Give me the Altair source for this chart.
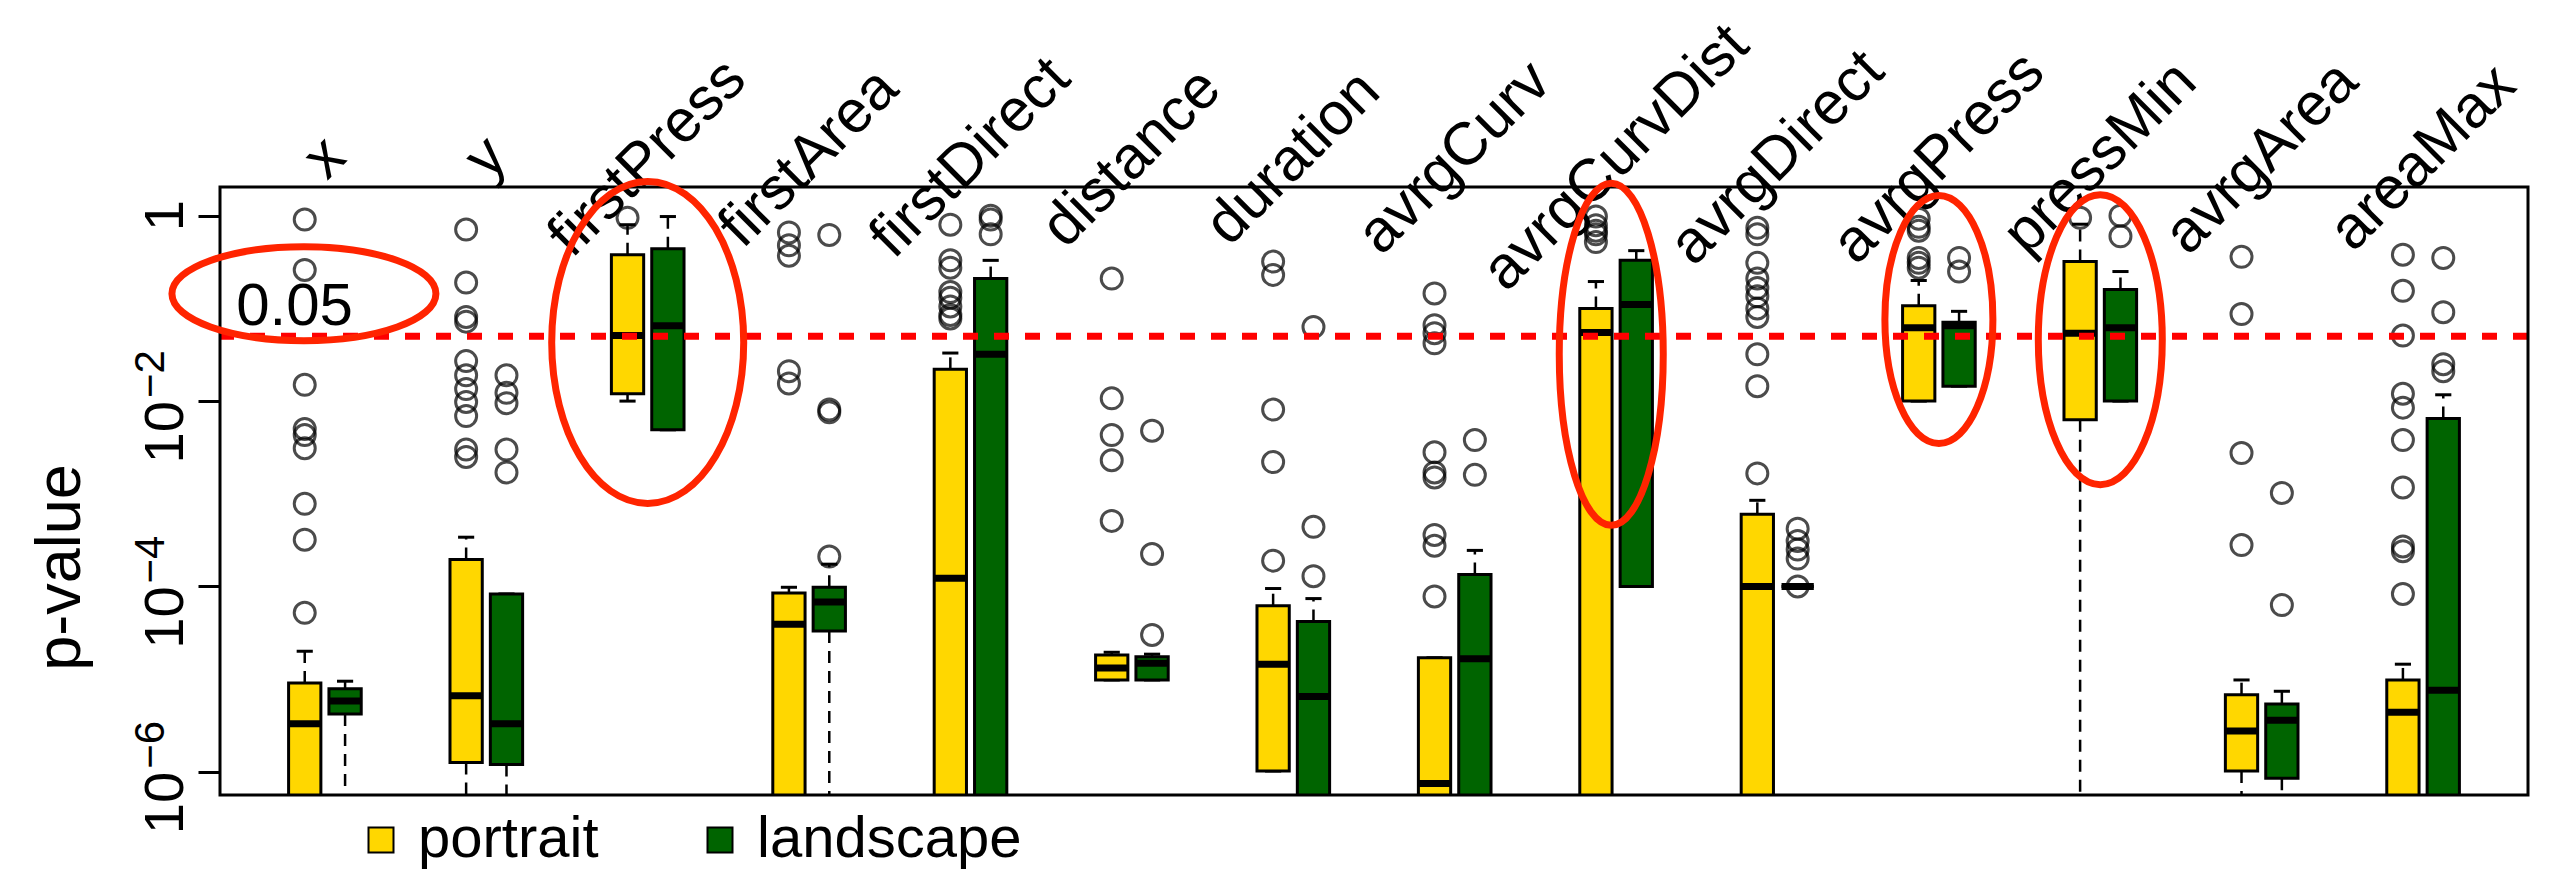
import altair as alt
import pandas as pd

categories = ["x", "y", "firstPress", "firstArea", "firstDirect", "distance", "duration",
              "avrgCurv", "avrgCurvDist", "avrgDirect", "avrgPress", "pressMin", "avrgArea", "areaMax"]
series = ["portrait", "landscape"]
colors = ["#FFD700", "#006400"]

# box statistics (p-values); values below ~6e-7 lie under the frame
portrait_lw  = [1e-7, 1e-7, 0.010, 1e-7, 1e-7, 9.8e-6, 1.02e-6, 1e-7, 1e-7, 1e-7, 0.010, 1e-7, 1e-7, 1e-7]
portrait_q1  = [3e-7, 1.26e-6, 0.012, 2e-7, 2e-7, 9.8e-6, 1.02e-6, 2e-7, 2e-7, 2e-7, 0.010, 0.0063, 1.02e-6, 2e-7]
portrait_med = [3.3e-6, 6.6e-6, 0.051, 3.9e-5, 1.23e-4, 1.32e-5, 1.45e-5, 7.5e-7, 0.055, 1.0e-4, 0.062, 0.054, 2.75e-6, 4.4e-6]
portrait_q3  = [9.1e-6, 1.95e-4, 0.38, 8.5e-5, 0.022, 1.82e-5, 6.2e-5, 1.7e-5, 0.10, 6.0e-4, 0.107, 0.32, 6.8e-6, 9.8e-6]
portrait_uw  = [2.0e-5, 3.4e-4, 0.80, 9.8e-5, 0.033, 1.95e-5, 9.5e-5, 1.7e-5, 0.195, 8.5e-4, 0.20, 0.81, 9.8e-6, 1.45e-5]

landscape_lw  = [1e-7, 1e-7, 0.0049, 1e-7, 1e-7, 9.8e-6, 1e-7, 1e-7, 1.0e-4, 1.0e-4, 0.0145, 0.010, 1e-7, 1e-7]
landscape_q1  = [4.2e-6, 1.2e-6, 0.0049, 3.3e-5, 2e-7, 9.8e-6, 2e-7, 2e-7, 1.0e-4, 1.0e-4, 0.0145, 0.010, 8.5e-7, 2e-7]
landscape_med = [5.8e-6, 3.3e-6, 0.065, 6.8e-5, 0.032, 1.48e-5, 6.5e-6, 1.66e-5, 0.11, 1.0e-4, 0.065, 0.062, 3.6e-6, 7.6e-6]
landscape_q3  = [7.9e-6, 8.3e-5, 0.44, 9.8e-5, 0.21, 1.74e-5, 4.2e-5, 1.35e-4, 0.33, 1.0e-4, 0.071, 0.16, 5.4e-6, 0.0065]
landscape_uw  = [9.5e-6, 8.3e-5, 0.98, 1.74e-4, 0.33, 1.86e-5, 7.4e-5, 2.45e-4, 0.42, 1.0e-4, 0.093, 0.25, 7.4e-6, 0.0117]

portrait_out = [
    [0.91, 0.26, 0.015, 0.005, 0.0043, 0.0031, 7.8e-4, 3.2e-4, 5.2e-5],
    [0.71, 0.19, 0.081, 0.072, 0.027, 0.019, 0.0135, 0.0098, 0.0069, 0.0030, 0.0025],
    [0.95],
    [0.66, 0.48, 0.37, 0.021, 0.0155],
    [0.80, 0.33, 0.275, 0.15, 0.13, 0.105, 0.085, 0.078],
    [0.21, 0.0107, 0.0043, 0.0023, 5.1e-4],
    [0.32, 0.23, 0.0081, 0.0022, 1.9e-4],
    [0.145, 0.066, 0.054, 0.042, 0.0028, 0.0017, 0.0015, 3.6e-4, 2.75e-4, 7.8e-5],
    [0.98, 0.79, 0.69, 0.63, 0.52],
    [0.74, 0.63, 0.31, 0.21, 0.166, 0.135, 0.10, 0.081, 0.032, 0.0145, 0.00166],
    [0.93, 0.76, 0.69, 0.35, 0.31, 0.275],
    [0.95],
    [0.36, 0.087, 0.00275, 2.8e-4],
    [0.38, 0.155, 0.051, 0.012, 0.0085, 0.0038, 0.00117, 2.7e-4, 2.4e-4, 8.3e-5],
]
landscape_out = [
    [],
    [0.019, 0.0123, 0.0095, 0.0030, 0.0017],
    [],
    [0.62, 0.0081, 0.0076, 2.1e-4],
    [1.0, 0.91, 0.63],
    [0.0048, 2.24e-4, 3.0e-5],
    [0.063, 4.4e-4, 1.29e-4],
    [0.0038, 0.0016],
    [],
    [4.2e-4, 3.1e-4, 2.5e-4, 2.0e-4, 1.0e-4],
    [0.35, 0.25],
    [1.0, 0.60],
    [0.00102, 6.3e-5],
    [0.35, 0.091, 0.025, 0.021],
]

threshold = 0.05
threshold_label = "0.05"

tick_values = [1, 1e-2, 1e-4, 1e-6]
tick_base = ["1", "10", "10", "10"]
tick_sup = ["", "\u22122", "\u22124", "\u22126"]

# highlight ellipses: category index, p-value at centre, radii in pixels
ellipse_cat = [-0.13, 2.0, 7.97, 10.0, 11.0]
ellipse_p = [0.144, 0.043, 0.032, 0.076, 0.046]
ellipse_rx = [132, 96, 52, 54, 62]
ellipse_ry = [47, 161, 171, 124, 145]

# ---------------------------------------------------------------- tables
rows = []
for s, (lw, q1, md, q3, uw) in zip(series, [
        (portrait_lw, portrait_q1, portrait_med, portrait_q3, portrait_uw),
        (landscape_lw, landscape_q1, landscape_med, landscape_q3, landscape_uw)]):
    for i, c in enumerate(categories):
        rows.append(dict(cat=c, idx=i, series=s, lw=lw[i], q1=q1[i], med=md[i], q3=q3[i], uw=uw[i]))
stats = pd.DataFrame(rows)

orows = []
for s, outs in zip(series, [portrait_out, landscape_out]):
    for i, c in enumerate(categories):
        for v in outs[i]:
            orows.append(dict(cat=c, idx=i, series=s, val=v))
outl = pd.DataFrame(orows)

W, H = 2308, 608
OFF, HALF, CAP = 0.125, 0.1, 0.05
FONT = "Liberation Sans"

xs = alt.Scale(domain=[-0.65, 13.65], nice=False, zero=False)
ys = alt.Scale(type="log", domain=[10 ** -6.25, 10 ** 0.31], nice=False)

pos_expr = f"datum.idx + (datum.series == 'portrait' ? {-OFF} : {OFF})"

base = alt.Chart(stats).transform_calculate(
    pos=pos_expr,
    xl=f"{pos_expr} - {HALF}",
    xr=f"{pos_expr} + {HALF}",
    cl=f"{pos_expr} - {CAP}",
    cr=f"{pos_expr} + {CAP}",
)

X = lambda f: alt.X(f"{f}:Q", scale=xs, axis=None)

yaxis = alt.Axis(
    values=tick_values, labels=False,
    tickSize=22, tickWidth=3, tickColor="black", domain=False, grid=False,
    title="p-value", titleFontSize=63, titleFont=FONT, titleFontWeight="normal",
    titleColor="black", titleAngle=270, titleX=-160, titleY=380,
    titleAlign="center", titleBaseline="middle",
)

whisk_hi = base.mark_rule(color="black", strokeWidth=2.5, strokeDash=[12, 8], clip=True).encode(
    x=X("pos"), y=alt.Y("q3:Q", scale=ys, axis=yaxis), y2="uw:Q")
whisk_lo = base.mark_rule(color="black", strokeWidth=2.5, strokeDash=[12, 8], clip=True).encode(
    x=X("pos"), y=alt.Y("q1:Q", scale=ys), y2="lw:Q")
cap_hi = base.mark_rule(color="black", strokeWidth=3, clip=True).encode(
    x=X("cl"), x2="cr:Q", y=alt.Y("uw:Q", scale=ys))
cap_lo = base.mark_rule(color="black", strokeWidth=3, clip=True).encode(
    x=X("cl"), x2="cr:Q", y=alt.Y("lw:Q", scale=ys))

boxes = base.mark_rect(stroke="black", strokeWidth=3, clip=True).encode(
    x=X("xl"), x2="xr:Q",
    y=alt.Y("q1:Q", scale=ys), y2="q3:Q",
    fill=alt.Fill("series:N", scale=alt.Scale(domain=series, range=colors),
                  legend=alt.Legend(orient="none", legendX=132, legendY=624, direction="horizontal",
                                    title=None, symbolType="square", symbolSize=625,
                                    symbolStrokeColor="black", symbolStrokeWidth=2,
                                    labelFontSize=58, labelFont=FONT, labelColor="black",
                                    labelOffset=8, columnPadding=92, padding=0,
                                    labelLimit=400)),
)
medians = base.mark_rule(color="black", strokeWidth=7, clip=True).encode(
    x=X("xl"), x2="xr:Q", y=alt.Y("med:Q", scale=ys))

outliers = alt.Chart(outl).transform_calculate(pos=pos_expr).mark_point(
    shape="circle", size=441, color="black", strokeWidth=3, filled=False, clip=True).encode(
    x=X("pos"), y=alt.Y("val:Q", scale=ys))

thr = alt.Chart(pd.DataFrame({"p": [threshold]})).mark_rule(
    color="#FF0000", strokeWidth=7, strokeDash=[15, 16]).encode(
    y=alt.Y("p:Q", scale=ys))

thr_text = alt.Chart(pd.DataFrame({"x": [-0.55], "p": [0.066], "t": [threshold_label]})).mark_text(
    align="left", baseline="alphabetic", fontSize=60, font=FONT, color="black").encode(
    x=X("x"), y=alt.Y("p:Q", scale=ys), text="t:N")

cat_df = pd.DataFrame({"cat": categories, "idx": list(range(len(categories)))})
cat_text = alt.Chart(cat_df).mark_text(
    angle=315, align="center", baseline="middle", fontSize=60, font=FONT, color="black").encode(
    x=X("idx"), y=alt.value(-29), text="cat:N")

tick_df = pd.DataFrame({"v": tick_values, "b": tick_base, "s": tick_sup})
tick_one = alt.Chart(tick_df).transform_filter("datum.s == ''").mark_text(
    angle=270, align="center", baseline="alphabetic", fontSize=56, font=FONT, color="black").encode(
    x=alt.value(-37), y=alt.Y("v:Q", scale=ys), text="b:N")
tick_ten = alt.Chart(tick_df).transform_filter("datum.s != ''").mark_text(
    angle=270, align="right", baseline="alphabetic", fontSize=56, font=FONT, color="black", dx=0).encode(
    x=alt.value(-37), y=alt.Y("v:Q", scale=ys), text="b:N")
tick_exp = alt.Chart(tick_df).transform_filter("datum.s != ''").mark_text(
    angle=270, align="left", baseline="alphabetic", fontSize=42, font=FONT, color="black", dx=3, dy=-19).encode(
    x=alt.value(-37), y=alt.Y("v:Q", scale=ys), text="s:N")

ell_layers = []
for cx, cp, rx, ry in zip(ellipse_cat, ellipse_p, ellipse_rx, ellipse_ry):
    s = max(rx, ry)
    a, b = rx / s, ry / s
    k = 0.5523
    path = (f"M {a} 0 C {a} {k*b} {k*a} {b} 0 {b} C {-k*a} {b} {-a} {k*b} {-a} 0 "
            f"C {-a} {-k*b} {-k*a} {-b} 0 {-b} C {k*a} {-b} {a} {-k*b} {a} 0 Z")
    ell_layers.append(
        alt.Chart(pd.DataFrame({"x": [cx], "p": [cp]})).mark_point(
            shape=path, size=(2 * s) ** 2, stroke="#FF2400", strokeWidth=7, filled=False, opacity=1).encode(
            x=X("x"), y=alt.Y("p:Q", scale=ys))
    )

frame = alt.Chart(pd.DataFrame({"f": [0]})).mark_rect(
    fillOpacity=0, stroke="black", strokeWidth=3).encode(
    x=alt.value(0), x2=alt.value(W), y=alt.value(0), y2=alt.value(H))

chart = alt.layer(
    whisk_hi, whisk_lo, cap_hi, cap_lo, boxes, medians, outliers, thr, thr_text, cat_text,
    tick_one, tick_ten, tick_exp, frame, *ell_layers
).properties(
    width=W, height=H,
    autosize=alt.AutoSizeParams(type="none"),
    padding={"left": 212, "top": 179, "right": 12, "bottom": 78},
).configure_view(strokeWidth=0).configure(font=FONT)

chart.save("out.html", embed_options={"renderer": "svg", "actions": False})
